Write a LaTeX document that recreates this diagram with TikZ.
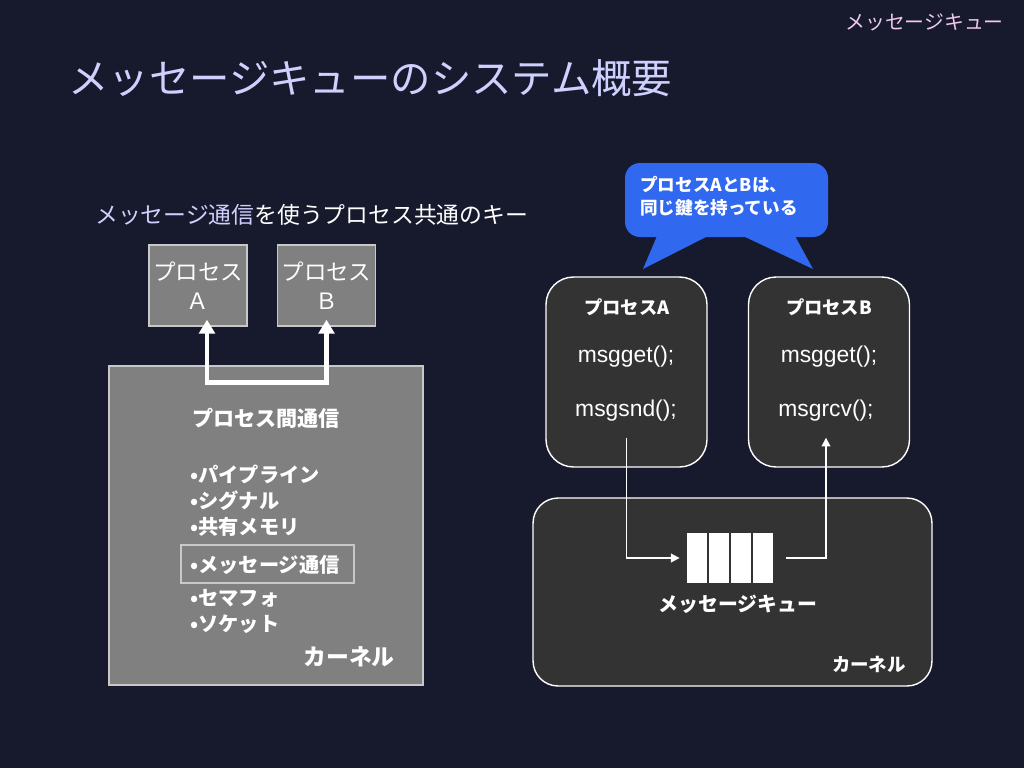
\documentclass[tikz,border=0pt]{standalone}
\usepackage{fontspec}
\setmainfont{Noto Sans CJK JP}
\newfontfamily\codefont{Liberation Sans}
\usetikzlibrary{positioning,arrows.meta}

\definecolor{slidebg}{HTML}{161A2C}
\definecolor{graybox}{HTML}{808080}
\definecolor{grayline}{HTML}{C8C8C8}
\definecolor{darkbox}{HTML}{333333}
\definecolor{balloon}{HTML}{3068F0}
\definecolor{titlecol}{HTML}{D0D0FF}
\definecolor{pinkcol}{HTML}{F0C8F0}

\begin{document}
\begin{tikzpicture}[x=0.02cm,y=-0.02cm,
	fs/.style={font=\fontsize{#1pt}{#1pt}\selectfont},
	fsb/.style={font=\fontsize{#1pt}{#1pt}\selectfont\bfseries},
	oldproc/.style={fill=graybox,draw=grayline,line width=0.8pt,minimum width=1.96cm,minimum height=1.62cm,
		text=white,align=center,font=\fontsize{12.8pt}{16.5pt}\selectfont,inner sep=0pt},
	newproc/.style={fill=darkbox,draw=white,line width=0.8pt,rounded corners=0.55cm,
		minimum width=3.22cm,minimum height=3.8cm},
	item/.style={anchor=west,text=white,fsb=11.5,inner sep=0pt},
	code/.style={text=white,font=\codefont\fontsize{13pt}{13pt}\selectfont},
	cell/.style={fill=white,minimum width=0.4cm,minimum height=1cm,inner sep=0pt},
	thin/.style={white,line width=0.9pt,-{Triangle[length=5pt,width=5pt]}}]
	\useasboundingbox (0,0) rectangle (1024,768);
	\fill[slidebg] (0,0) rectangle (1024,768);

	% headings
	\node[anchor=east,text=pinkcol,fs=11.3] (corner) at (1010,22) {メッセージキュー};
	\node[anchor=west,text=titlecol,fs=23] (title) at (62,78) {メッセージキューのシステム概要};
	\node[anchor=west,text=white,fs=13] (key) at (89,215) {\textcolor{titlecol}{メッセージ通信}を使うプロセス共通のキー};

	% left side
	\node[oldproc] (oldA) at (198,285.5) {プロセス\\Ａ};
	\node[oldproc] (oldB) at (326.5,285.5) {プロセス\\Ｂ};
	\node[fill=graybox,draw=grayline,line width=0.8pt,minimum width=6.28cm,minimum height=6.38cm] (kernelL) at (266,525.5) {};
	\draw[white,line width=2.8pt,{Triangle[length=8pt,width=9pt]}-{Triangle[length=8pt,width=9pt]},shorten <=-4pt,shorten >=-4pt]
		([xshift=0.18cm]oldA.south) -- ++(0,56) -| (oldB.south);
	\node[item,fsb=12] (ipc) at (192,418) {プロセス間通信};
	\node[item] (i1) at (190,474) {•パイプライン};
	\node[item] (i2) at (190,501) {•シグナル};
	\node[item] (i3) at (190,527) {•共有メモリ};
	\node[item] (i4) at (190,565) {•メッセージ通信};
	\node[draw=grayline,line width=0.6pt,minimum width=3.46cm,minimum height=0.76cm] (pick) at (267.5,564) {};
	\node[item] (i5) at (190,598) {•セマフォ};
	\node[item] (i6) at (190,624) {•ソケット};
	\node[anchor=east,text=white,fsb=13] (kl) at (401,657) {カーネル};

	% right side
	\fill[balloon,rounded corners=0.3cm] (625,163) rectangle (828,237);
	\fill[balloon] (657,236) -- (643,269) -- (708,236) -- cycle;
	\fill[balloon] (743,236) -- (813,269) -- (795,236) -- cycle;
	\node[anchor=north west,text=white,fsb=10,align=left,inner sep=0pt] (same) at (640,176)
		{プロセスAとBは、\\[3pt]同じ鍵を持っている};

	\node[newproc] (procA) at (626.5,372) {};
	\node[newproc] (procB) at (829,372) {};
	\node[text=white,fsb=10.4] (nameA) at (627,307) {プロセスA};
	\node[text=white,fsb=10.4] (nameB) at (829,307) {プロセスB};
	\node[code] (getA) at (626,357) {msgget();};
	\node[code] (sndA) at (626,411) {msgsnd();};
	\node[code] (getB) at (829,357) {msgget();};
	\node[code] (rcvB) at (826,411) {msgrcv();};

	\node[fill=darkbox,draw=white,line width=0.8pt,rounded corners=0.5cm,minimum width=7.98cm,minimum height=3.76cm] (kernelR) at (732.5,592) {};
	\foreach \i in {1,...,4}
		\node[cell] (c\i) at (675+22*\i,558) {};
	\node[text=white,fsb=11.3] (mq) at (738,604) {メッセージキュー};
	\node[anchor=east,text=white,fsb=10.5] (kr) at (912,664) {カーネル};

	\draw[thin,shorten >=4pt] ([yshift=0.6cm]procA.south) |- (c1.west);
	\draw[thin,shorten <=7pt] (c4.east) -| ([xshift=-0.06cm,yshift=0.6cm]procB.south);
\end{tikzpicture}
\end{document}
